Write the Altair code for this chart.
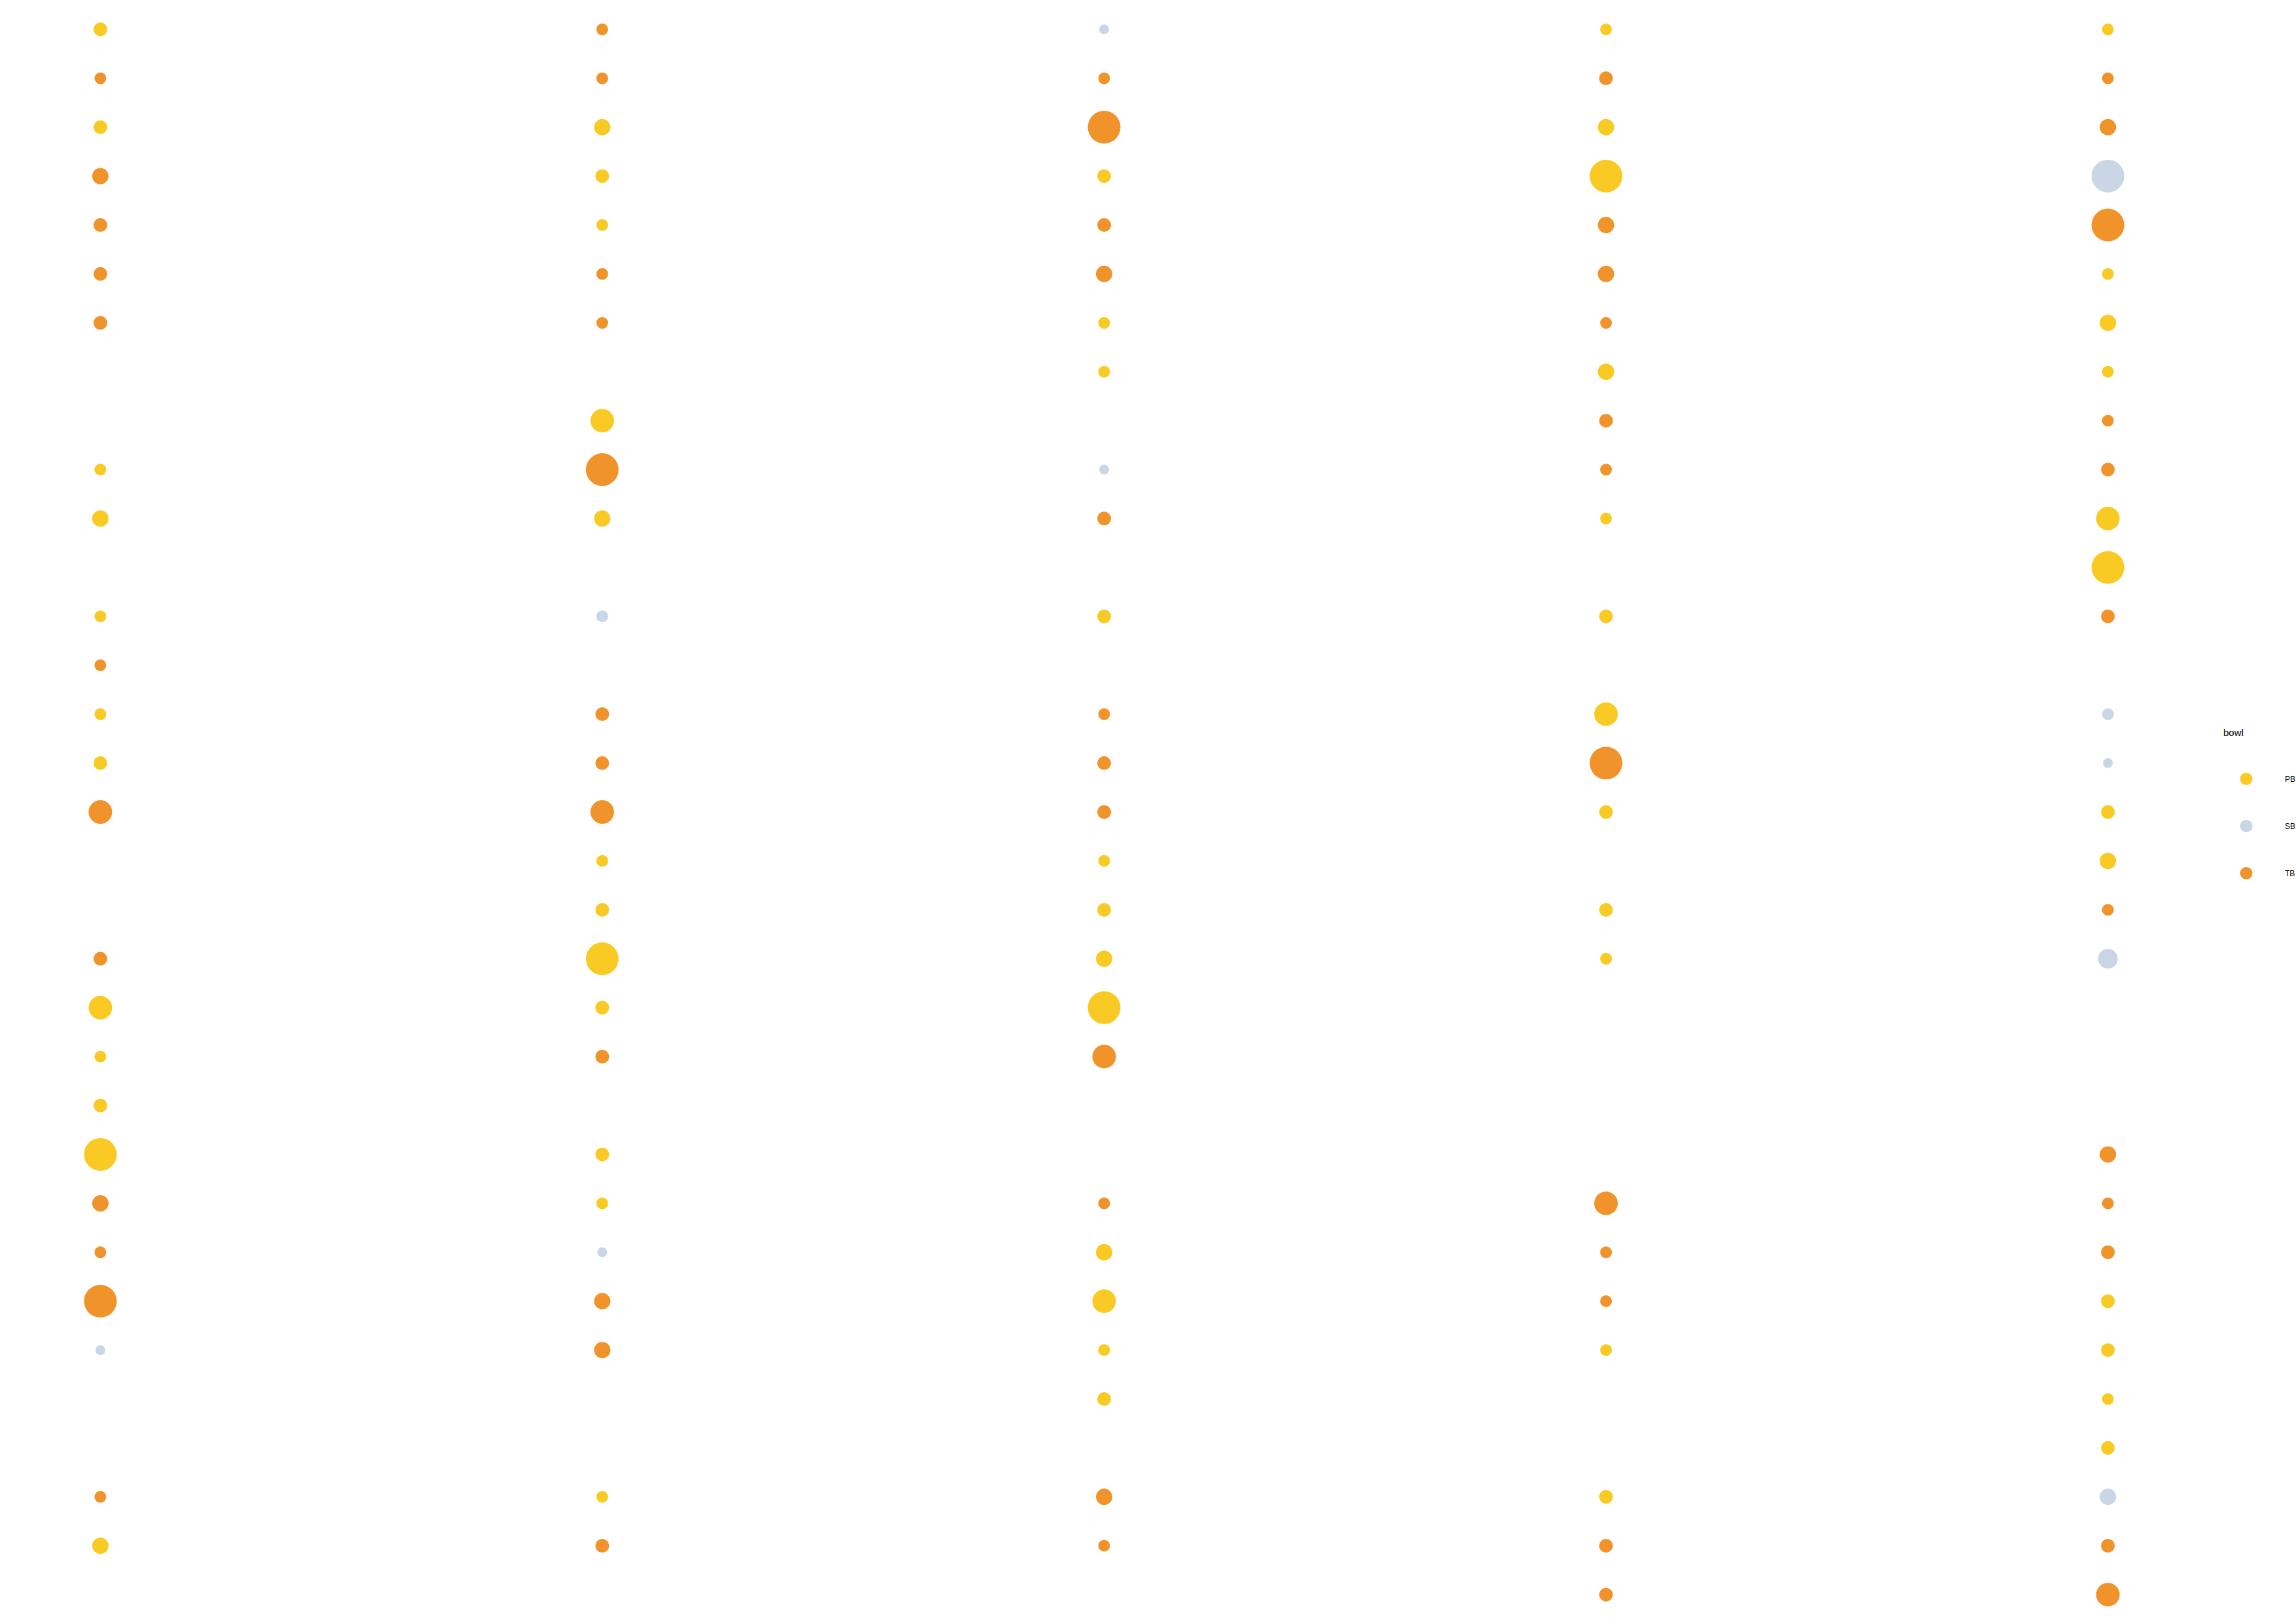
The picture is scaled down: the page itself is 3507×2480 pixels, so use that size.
import altair as alt
import pandas as pd

# Column categories and row indices
columns = ["1", "2", "3", "4", "5"]
n_rows = 33

# bowl per row for each column (None = no point)
bowl_c1 = ["PB","TB","PB","TB","TB","TB","TB",None,None,"PB","PB",None,"PB","TB","PB","PB","TB",None,None,"TB","PB","PB","PB","PB","TB","TB","TB","SB",None,None,"TB","PB",None]
bowl_c2 = ["TB","TB","PB","PB","PB","TB","TB",None,"PB","TB","PB",None,"SB",None,"TB","TB","TB","PB","PB","PB","PB","TB",None,"PB","PB","SB","TB","TB",None,None,"PB","TB",None]
bowl_c3 = ["SB","TB","TB","PB","TB","TB","PB","PB",None,"SB","TB",None,"PB",None,"TB","TB","TB","PB","PB","PB","PB","TB",None,None,"TB","PB","PB","PB","PB",None,"TB","TB",None]
bowl_c4 = ["PB","TB","PB","PB","TB","TB","TB","PB","TB","TB","PB",None,"PB",None,"PB","TB","PB",None,"PB","PB",None,None,None,None,"TB","TB","TB","PB",None,None,"PB","TB","TB"]
bowl_c5 = ["PB","TB","TB","SB","TB","PB","PB","PB","TB","TB","PB","PB","TB",None,"SB","SB","PB","PB","TB","SB",None,None,None,"TB","TB","TB","PB","PB","PB","PB","SB","TB","TB"]

# count level per row for each column (None = no point)
cnt_c1 = [3,2,3,4,3,3,3,None,None,2,4,None,2,2,2,3,6,None,None,3,6,2,3,7,4,2,7,1,None,None,2,4,None]
cnt_c2 = [2,2,4,3,2,2,2,None,6,7,4,None,2,None,3,3,6,2,3,7,3,3,None,3,2,1,4,4,None,None,2,3,None]
cnt_c3 = [1,2,7,3,3,4,2,2,None,1,3,None,3,None,2,3,3,2,3,4,7,6,None,None,2,4,6,2,3,None,4,2,None]
cnt_c4 = [2,3,4,7,4,4,2,4,3,2,2,None,3,None,6,7,3,None,3,2,None,None,None,None,6,2,2,2,None,None,3,3,3]
cnt_c5 = [2,2,4,7,7,2,4,2,2,3,6,7,3,None,2,1,3,4,2,5,None,None,None,4,2,3,3,3,2,3,4,3,6]

bowl_domain = ["PB", "SB", "TB"]
bowl_colors = ["#f9ca24", "#c8d6e5", "#f0932b"]
level_domain = [1, 2, 3, 4, 5, 6, 7]
level_sizes = [225, 324, 441, 625, 900, 1296, 2500]

records = []
for col, bowls, cnts in zip(columns,
                            [bowl_c1, bowl_c2, bowl_c3, bowl_c4, bowl_c5],
                            [cnt_c1, cnt_c2, cnt_c3, cnt_c4, cnt_c5]):
    for r in range(n_rows):
        if bowls[r] is not None:
            records.append({"col": col, "row": r, "bowl": bowls[r], "count": cnts[r]})
df = pd.DataFrame(records)

chart = alt.Chart(df).mark_circle(opacity=1).encode(
    x=alt.X("col:N", scale=alt.Scale(type="point", padding=0.2, domain=columns), axis=None),
    y=alt.Y("row:O", scale=alt.Scale(type="point", padding=0.6, domain=list(range(n_rows))), axis=None),
    color=alt.Color(
        "bowl:N",
        scale=alt.Scale(domain=bowl_domain, range=bowl_colors),
        legend=alt.Legend(
            title="bowl", orient="none", legendX=3396, legendY=1112,
            titleFontSize=15, titleFontWeight="normal", titleFont="Liberation Sans",
            titleColor="black", titlePadding=53,
            labelFontSize=12, labelFont="Liberation Sans", labelColor="black",
            labelOffset=49.5, symbolOffset=25.5, symbolSize=361,
            symbolStrokeWidth=0, symbolOpacity=1, symbolType="circle",
            rowPadding=53,
        ),
    ),
    size=alt.Size("count:Q", scale=alt.Scale(domain=level_domain, range=level_sizes, zero=False, nice=False), legend=None),
).properties(
    width=3373, height=2480, autosize="none",
    padding={"left": 0, "top": 0, "right": 134, "bottom": 0}
).configure_view(stroke=None)

chart.save("out.html", embed_options={"renderer": "svg", "actions": False})
